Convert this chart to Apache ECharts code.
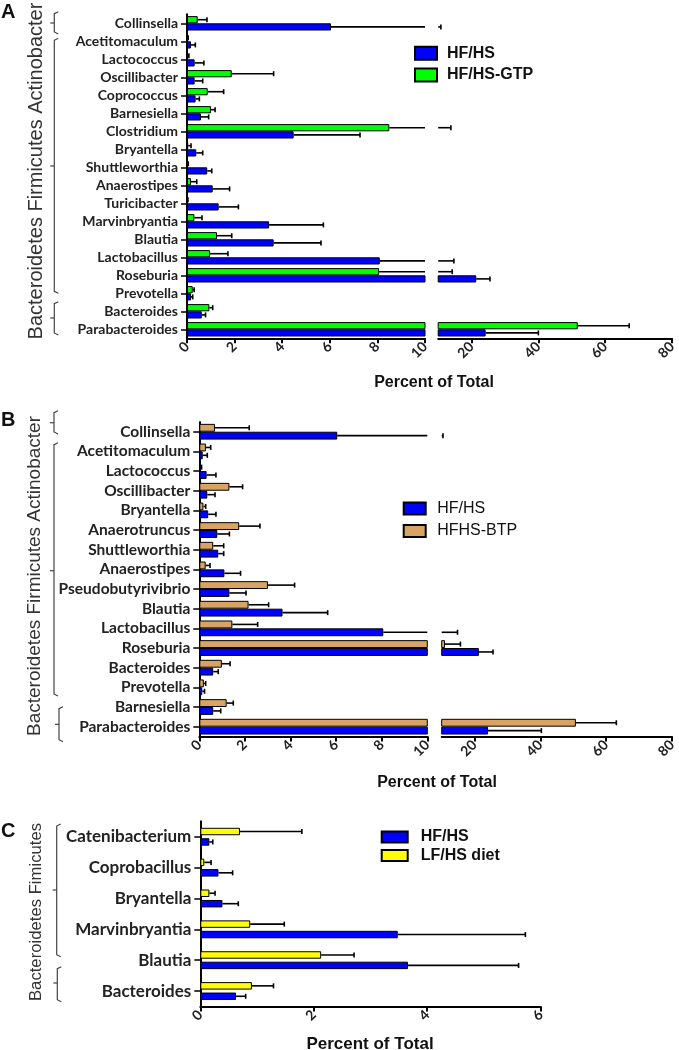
<!DOCTYPE html>
<html>
<head>
<meta charset="utf-8">
<script src="https://cdn.jsdelivr.net/npm/echarts@6/dist/echarts.min.js"></script>
<style>html,body{margin:0;padding:0;background:#fff}#c{width:679px;height:1050px}</style>
</head>
<body>
<div id="c"></div>
<script>
// ---------- Panel A ----------
const catsA = ['Collinsella','Acetitomaculum','Lactococcus','Oscillibacter','Coprococcus','Barnesiella','Clostridium','Bryantella','Shuttleworthia','Anaerostipes','Turicibacter','Marvinbryantia','Blautia','Lactobacillus','Roseburia','Prevotella','Bacteroides','Parabacteroides'];
const gtpA   = [0.45, 0.02, 0.03, 1.88, 0.87, 1.01, 8.5, 0.05, 0.02, 0.17, 0.02, 0.31, 1.26, 0.97, 8.07, 0.24, 0.94, 51.8];
const gtpSdA = [0.39, 0.03, 0.05, 1.76, 0.67, 0.17, 5.3, 0.12, 0.03, 0.24, 0.02, 0.32, 0.62, 0.75, 6.13, 0.06, 0.14, 15.4];
const hfA    = [6.05, 0.17, 0.32, 0.32, 0.36, 0.59, 4.48, 0.39, 0.85, 1.08, 1.33, 3.45, 3.64, 8.1, 21.4, 0.17, 0.62, 24.2];
const hfSdA  = [4.75, 0.18, 0.39, 0.34, 0.16, 0.32, 2.79, 0.27, 0.19, 0.71, 0.83, 2.28, 1.99, 6.6, 4.1, 0.07, 0.16, 15.8];
// ---------- Panel B ----------
const catsB = ['Collinsella','Acetitomaculum','Lactococcus','Oscillibacter','Bryantella','Anaerotruncus','Shuttleworthia','Anaerostipes','Pseudobutyrivibrio','Blautia','Lactobacillus','Roseburia','Bacteroides','Prevotella','Barnesiella','Parabacteroides'];
const btpB   = [0.69, 0.29, 0.03, 1.32, 0.18, 1.75, 0.61, 0.28, 3.01, 2.16, 1.45, 11.0, 0.99, 0.2, 1.2, 50.8];
const btpSdB = [1.5, 0.21, 0.07, 0.58, 0.1, 0.91, 0.46, 0.19, 1.17, 0.88, 1.11, 4.7, 0.36, 0.08, 0.29, 12.3];
const hfB    = [6.05, 0.15, 0.32, 0.35, 0.39, 0.79, 0.83, 1.1, 1.32, 3.65, 8.07, 21.3, 0.61, 0.13, 0.61, 24.1];
const hfSdB  = [4.35, 0.2, 0.41, 0.34, 0.34, 0.53, 0.24, 0.71, 0.73, 1.98, 6.73, 4.3, 0.22, 0.1, 0.33, 16.2];
// ---------- Panel C ----------
const catsC = ['Catenibacterium','Coprobacillus','Bryantella','Marvinbryantia','Blautia','Bacteroides'];
const lfC    = [0.70, 0.07, 0.16, 0.88, 2.13, 0.91];
const lfSdC  = [1.09, 0.12, 0.10, 0.60, 0.58, 0.38];
const hfC    = [0.16, 0.32, 0.39, 3.48, 3.66, 0.63];
const hfSdC  = [0.06, 0.25, 0.28, 2.25, 1.95, 0.17];
// ---------- tick labels ----------
const leftTicks = [0, 2, 4, 6, 8, 10];
const rightTicks = [20, 40, 60, 80];
const cTicks = [0, 2, 4, 6];

const BLUE = '#0000ff', GREEN = '#00ff00', TAN = '#d9a463', YELLOW = '#ffff00';
const LAB = {fontFamily: 'Lato', fontWeight: 'bold', color: '#222'};

function errRender(offFrac) {
  return function (params, api) {
    const mean = api.value(0), end = api.value(1), ci = api.value(2);
    const cs = params.coordSys;
    const band = api.size([0, 1])[1];
    const p0 = api.coord([mean, ci]), p1 = api.coord([end, ci]);
    const y = p0[1] + offFrac * band;
    const xmin = cs.x, xmax = cs.x + cs.width;
    const x0 = Math.max(p0[0], xmin), x1 = Math.min(p1[0], xmax);
    if (x1 <= x0 + 0.2) return null;
    const st = {stroke: '#000', lineWidth: 1.6};
    const ch = [{type: 'line', shape: {x1: x0, y1: y, x2: x1, y2: y}, style: st}];
    if (p1[0] <= xmax + 0.5) ch.push({type: 'line', shape: {x1: x1, y1: y - 2.5, x2: x1, y2: y + 2.5}, style: st});
    return {type: 'group', children: ch};
  };
}
function errSeries(means, sds, axisIdx, offFrac) {
  return {
    type: 'custom', xAxisIndex: axisIdx, yAxisIndex: axisIdx, z: 5, silent: true,
    renderItem: errRender(offFrac),
    encode: {x: [0, 1], y: 2},
    data: means.map((m, i) => [m, +(m + sds[i]).toFixed(3), i])
  };
}
function barSeries(name, color, vals, axisIdx, gapCat, gap, rightOnly) {
  return {
    type: 'bar', name: name, xAxisIndex: axisIdx, yAxisIndex: axisIdx,
    barCategoryGap: gapCat, barGap: gap,
    itemStyle: {color: color, borderColor: '#000', borderWidth: 1},
    data: rightOnly ? vals.map(v => v > 10 ? v : '-') : vals
  };
}
function yAx(grid, cats, show, fs) {
  return {
    type: 'category', gridIndex: grid, data: cats, inverse: true, show: show,
    axisLine: {show: true, lineStyle: {color: '#000', width: 2}},
    axisTick: {show: true, alignWithLabel: true, interval: 0, length: 6, lineStyle: {color: '#000', width: 1.5}},
    axisLabel: Object.assign({margin: 9, fontSize: fs, interval: 0}, LAB),
    splitLine: {show: false}
  };
}
function xAx(grid, min, max, interval, custom) {
  const ax = {
    type: 'value', gridIndex: grid, min: min, max: max, interval: interval,
    axisLine: {show: true, lineStyle: {color: '#000', width: 2}},
    axisTick: {show: true, length: 5, lineStyle: {color: '#000', width: 2}},
    axisLabel: Object.assign({rotate: 45, margin: 6, fontSize: 14}, LAB),
    splitLine: {show: false}
  };
  if (custom) { ax.axisTick.customValues = custom; ax.axisLabel.customValues = custom; }
  return ax;
}

const grids = [
  {left: 187, top: 14.3, width: 238, height: 324},
  {left: 438.2, top: 14.3, width: 238.5, height: 324},
  {left: 199.3, top: 421.9, width: 228, height: 314.6},
  {left: 441.7, top: 421.9, width: 232.6, height: 314.6},
  {left: 200.3, top: 821.3, width: 340.4, height: 185.2}
];

const series = [];
// A
series.push(barSeries('HF/HS-GTP', GREEN, gtpA, 0, '20%', '0%'));
series.push(barSeries('HF/HS', BLUE, hfA, 0, '20%', '0%'));
series.push(barSeries('HF/HS-GTP', GREEN, gtpA, 1, '20%', '0%', true));
series.push(barSeries('HF/HS', BLUE, hfA, 1, '20%', '0%', true));
series.push(errSeries(gtpA, gtpSdA, 0, -0.2), errSeries(hfA, hfSdA, 0, 0.2));
series.push(errSeries(gtpA, gtpSdA, 1, -0.2), errSeries(hfA, hfSdA, 1, 0.2));
// B
series.push(barSeries('HFHS-BTP', TAN, btpB, 2, '20%', '0%'));
series.push(barSeries('HF/HS', BLUE, hfB, 2, '20%', '0%'));
series.push(barSeries('HFHS-BTP', TAN, btpB, 3, '20%', '0%', true));
series.push(barSeries('HF/HS', BLUE, hfB, 3, '20%', '0%', true));
series.push(errSeries(btpB, btpSdB, 2, -0.2), errSeries(hfB, hfSdB, 2, 0.2));
series.push(errSeries(btpB, btpSdB, 3, -0.2), errSeries(hfB, hfSdB, 3, 0.2));
// C
series.push(barSeries('LF/HS diet', YELLOW, lfC, 4, '42%', '40%'));
series.push(barSeries('HF/HS', BLUE, hfC, 4, '42%', '40%'));
series.push(errSeries(lfC, lfSdC, 4, -0.169), errSeries(hfC, hfSdC, 4, 0.169));

function legend(left, top, names, w, h, gap, fs, fw, pad) {
  return {
    left: left, top: top, orient: 'vertical', padding: 0, icon: 'rect',
    itemWidth: w, itemHeight: h, itemGap: gap, selectedMode: false, data: names,
    textStyle: {fontFamily: 'Liberation Sans', fontSize: fs, fontWeight: fw, color: '#111', padding: [0, 0, 0, pad]}
  };
}

function bracket(x, top, bot, mid) {
  return [
    {type: 'polyline', shape: {points: [[x + 4, top], [x, top + 2], [x, bot - 2], [x + 4, bot]]}, style: {stroke: '#444', lineWidth: 1.2, fill: null}},
    {type: 'line', shape: {x1: x - 4, y1: mid, x2: x, y2: mid}, style: {stroke: '#444', lineWidth: 1.2}}
  ];
}
function vtext(x, y, txt, fs) {
  return {type: 'text', x: x, y: y, rotation: Math.PI / 2,
    style: {text: txt, fontFamily: 'Liberation Sans', fontSize: fs, fill: '#333', align: 'center', verticalAlign: 'middle'}};
}
function htext(x, y, txt, fs, align) {
  return {type: 'text', x: x, y: y,
    style: {text: txt, fontFamily: 'Liberation Sans', fontWeight: 'bold', fontSize: fs, fill: '#111', align: align || 'center', verticalAlign: 'top'}};
}

const graphics = [].concat(
  bracket(54.3, 11.7, 34, 23), bracket(54.3, 38.3, 293.3, 166), bracket(54.3, 301.7, 335, 318),
  bracket(54, 410.7, 434, 422.7), bracket(54, 442.7, 696, 570.7), bracket(59, 706.7, 741.7, 724.3),
  bracket(56.7, 824, 956.7, 890), bracket(57.3, 966.7, 1001.7, 983),
  [
    vtext(36.5, 171, 'Bacteroidetes Firmicutes Actinobacter', 20),
    vtext(35, 576, 'Bacteroidetes Firmicutes Actinobacter', 19),
    vtext(36.5, 912, 'Bacteroidetes Fimicutes', 16.7),
    htext(1, 2, 'A', 20, 'left'),
    htext(1, 410, 'B', 20, 'left'),
    htext(1, 821, 'C', 20, 'left'),
    htext(434, 375, 'Percent of Total', 16),
    htext(437, 775, 'Percent of Total', 16),
    htext(370, 1036, 'Percent of Total', 17)
  ]
);

const option = {
  animation: false,
  backgroundColor: '#fff',
  grid: grids,
  xAxis: [
    xAx(0, 0, 10, 2), xAx(1, 10, 80, 10, rightTicks),
    xAx(2, 0, 10, 2), xAx(3, 10, 80, 10, rightTicks),
    xAx(4, 0, 6, 2)
  ],
  yAxis: [
    yAx(0, catsA, true, 14), yAx(1, catsA, false, 14),
    yAx(2, catsB, true, 15.5), yAx(3, catsB, false, 15.5),
    yAx(4, catsC, true, 17)
  ],
  legend: [
    legend(414, 45.3, ['HF/HS', 'HF/HS-GTP'], 22, 13, 5.6, 16, 'bold', 5),
    legend(402.7, 500.5, ['HF/HS', 'HFHS-BTP'], 22, 12, 6.5, 16, 'normal', 6.5),
    legend(380.7, 829, ['HF/HS', 'LF/HS diet'], 26, 11, 2.5, 16, 'bold', 8)
  ],
  graphic: graphics,
  series: series
};
const chart = echarts.init(document.getElementById('c'), null, {renderer: 'canvas'});
chart.setOption(option);
</script>
</body>
</html>
